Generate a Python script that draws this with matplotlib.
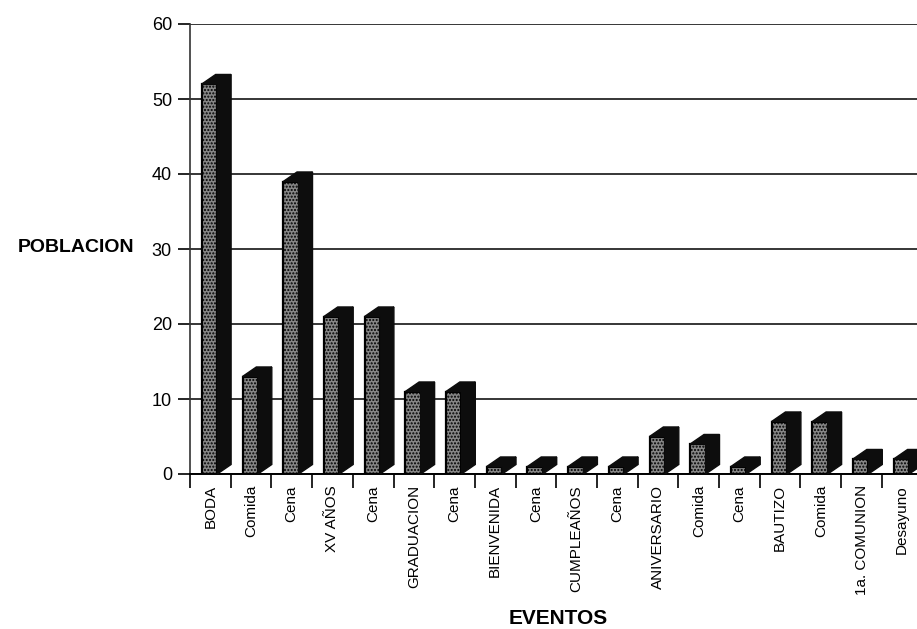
import matplotlib
matplotlib.use("Agg")
import matplotlib.pyplot as plt
from matplotlib.patches import Polygon
import numpy as np

categories = ["BODA", "Comida", "Cena", "XV AÑOS", "Cena", "GRADUACION", "Cena",
              "BIENVENIDA", "Cena", "CUMPLEAÑOS", "Cena", "ANIVERSARIO", "Comida",
              "Cena", "BAUTIZO", "Comida", "1a. COMUNION", "Desayuno"]
values = [52, 13, 39, 21, 21, 11, 11, 1, 1, 1, 1, 5, 4, 1, 7, 7, 2, 2]
y_ticks = [0, 10, 20, 30, 40, 50, 60]

plt.rcParams['font.family'] = ['Liberation Sans', 'DejaVu Sans']
plt.rcParams['hatch.color'] = '#222222'

W, H = 917, 629
fig = plt.figure(figsize=(W / 100, H / 100), dpi=100)
n = len(categories)
slot_px = 40.7
ax = fig.add_axes([190 / W, 155 / H, n * slot_px / W, 450 / H])
ax.set_xlim(0, n)
ax.set_ylim(0, 60)

front_off = 0.29
front_w = 0.38
dx = 0.34
dy = 1.27

xs = np.arange(n)
ax.bar(xs + front_off, values, width=front_w, align='edge', facecolor='#878787',
       edgecolor='black', linewidth=1.6, hatch='.....', zorder=3)

for i, v in enumerate(values):
    xl = i + front_off
    xr = xl + front_w
    side = Polygon([(xr, 0), (xr + dx, dy), (xr + dx, v + dy), (xr, v)],
                   closed=True, facecolor='#0d0d0d', edgecolor='#0d0d0d', lw=1, zorder=3)
    top = Polygon([(xl, v), (xl + dx, v + dy), (xr + dx, v + dy), (xr, v)],
                  closed=True, facecolor='#0d0d0d', edgecolor='#0d0d0d', lw=1, zorder=3)
    ax.add_patch(side)
    ax.add_patch(top)

# gridlines
ax.set_yticks(y_ticks)
ax.set_yticklabels([str(t) for t in y_ticks], fontsize=13)
ax.yaxis.grid(True, color='black', linewidth=1.1)
ax.set_axisbelow(True)

# x ticks: boundaries get marks, centers get labels
ax.set_xticks(np.arange(0, n + 1))
ax.set_xticklabels([])
ax.set_xticks(xs + 0.5, minor=True)
ax.set_xticklabels(categories, minor=True, rotation=90, fontsize=11)
ax.tick_params(axis='x', which='major', length=10, width=1.2, color='black')
ax.tick_params(axis='x', which='minor', length=0, pad=8)
ax.tick_params(axis='y', length=9, width=1.2, pad=4)

for s in ['top', 'right']:
    ax.spines[s].set_visible(False)
ax.spines['left'].set_color('#333333')
ax.spines['left'].set_linewidth(1.2)
ax.spines['bottom'].set_linewidth(1.4)

fig.text(18 / W, 1 - 248 / H, "POBLACION", fontsize=14, fontweight='bold',
         ha='left', va='center')
fig.text(558 / W, 1 - 619 / H, "EVENTOS", fontsize=15, fontweight='bold',
         ha='center', va='center')

fig.savefig("out.png", dpi=100)
